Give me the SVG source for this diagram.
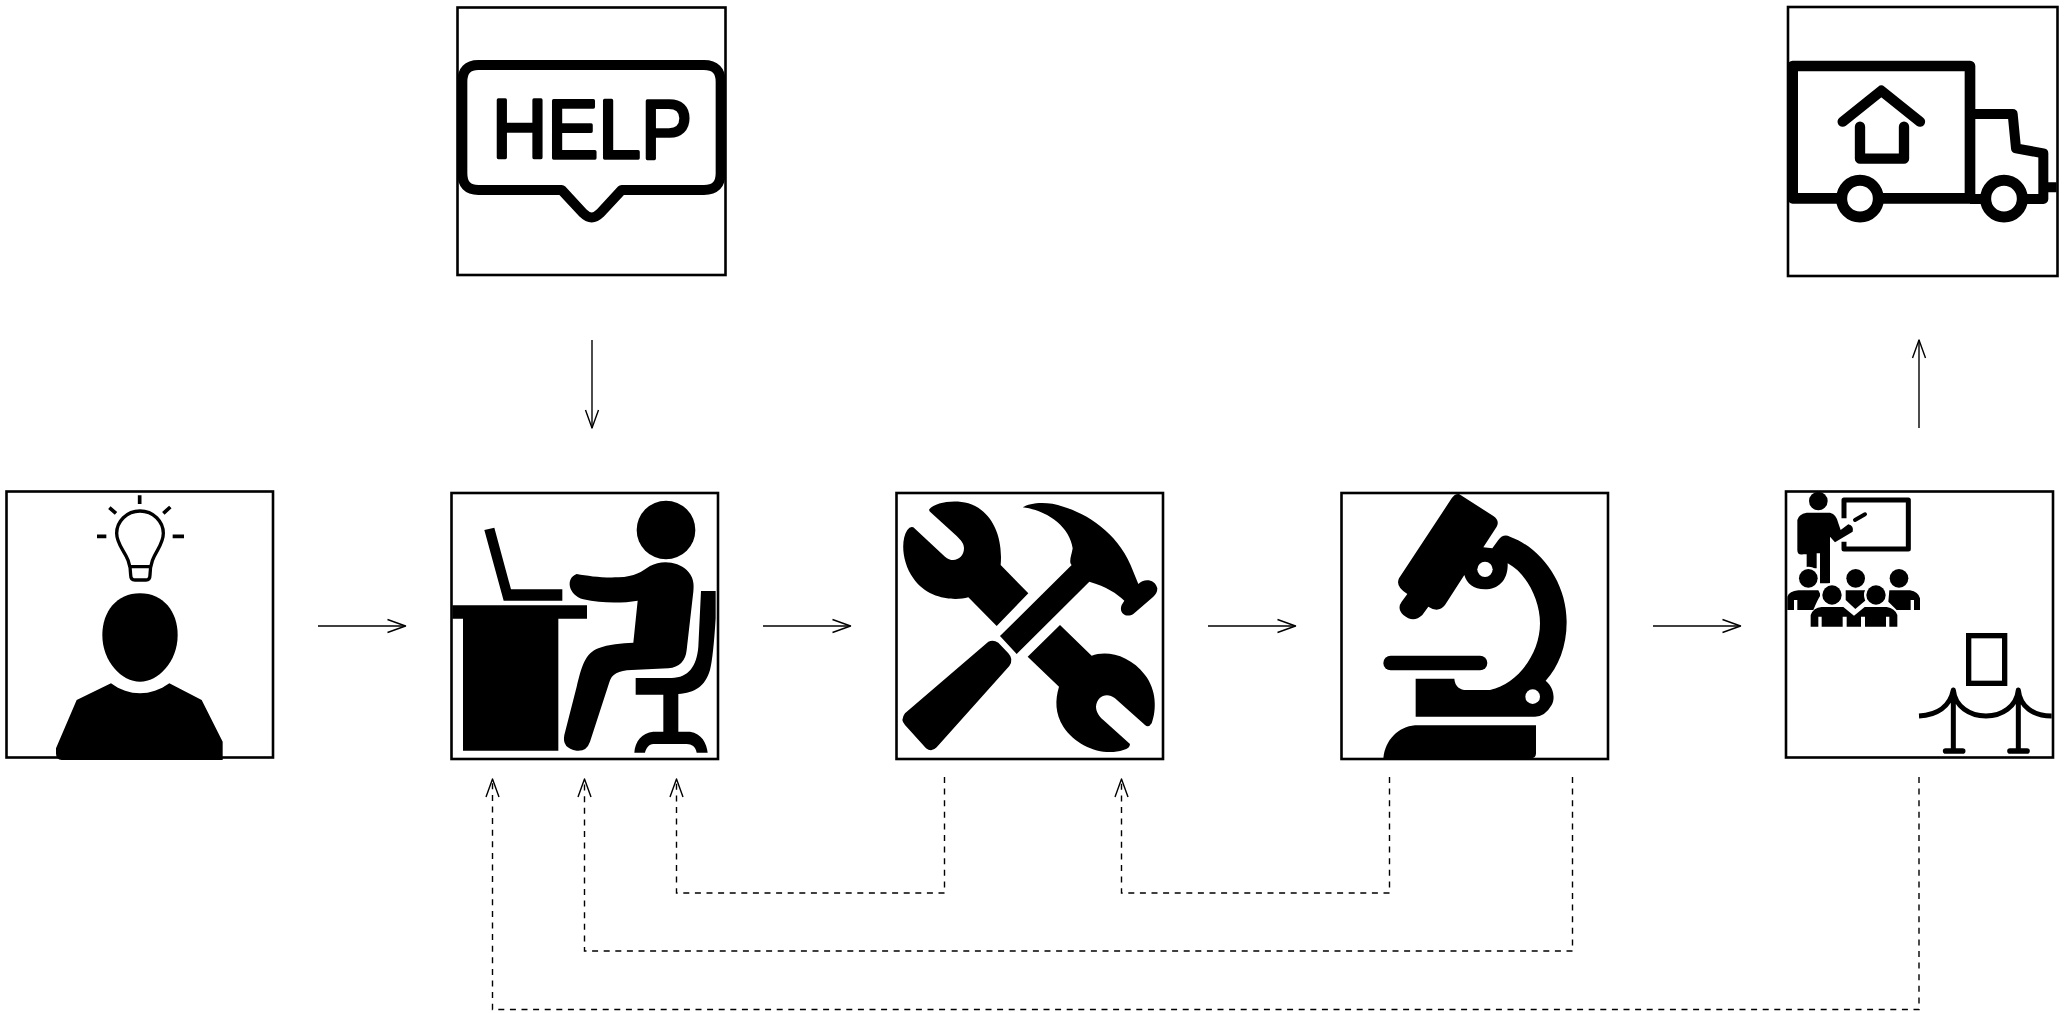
<svg xmlns="http://www.w3.org/2000/svg" width="2065" height="1013" viewBox="0 0 2065 1013">
<style>
.box{fill:#fff;stroke:#000;stroke-width:2.6}
.w{fill:#fff}
.k{fill:#000}
.ln{fill:none;stroke:#000;stroke-linejoin:round}
.r{stroke-linecap:round}
.c{fill:none;stroke:#000;stroke-width:1.4}
.d{stroke-dasharray:6 5.6}
</style>
<defs>
<marker id="a" markerUnits="userSpaceOnUse" markerWidth="24" markerHeight="18" refX="20" refY="9" orient="auto">
<path d="M2,2.5 L20,9 L2,15.5" fill="none" stroke="#000" stroke-width="1.4" stroke-linejoin="round"/>
</marker>
</defs>
<rect width="2065" height="1013" fill="#fff"/>

<g id="idea">
<rect class="box" x="6.5" y="491.5" width="266.5" height="266"/>
<g transform="translate(0,485) scale(.33333)">
<path class="ln" stroke-width="10" d="M420,78 C380,78 350,110 350,145 C350,190 392,205 392,270 Q392,285 405,285 H438 Q450,285 450,270 C450,205 490,190 490,145 C490,110 460,78 420,78Z M392,245 H450"/>
<path class="ln" stroke-width="11" d="M419,31 V57 M328,68 L348,85 M511,66 L490,85 M291,154 H319 M518,154 H552"/>
<path class="k" d="M420,325 C350,325 307,380 307,450 C307,530 365,590 420,590 C475,590 533,530 533,450 C533,380 490,325 420,325Z"/>
<path class="k" d="M333,595 C360,615 390,625 420,625 C450,625 480,615 508,595 L605,645 L668,770 V825 H185 Q168,825 168,805 V790 L230,645Z"/>
</g>
</g>

<g id="work">
<rect class="box" x="451.5" y="493" width="266.5" height="266"/>
<g transform="translate(445,490) scale(.33333)">
<circle class="k" cx="663" cy="120" r="88"/>
<path class="k" d="M118,120 L148,113 L198,298 H352 V332 H176 Z"/>
<path class="k" d="M22,346 H426 V386 H340 V782 H54 V386 H22Z"/>
<path class="k" d="M395,252 C430,258 470,264 520,262 C570,260 590,245 615,228 C650,208 700,215 725,240 C745,260 748,280 745,305 L725,480 Q720,530 670,535 L560,540 C520,542 500,550 492,580 L435,755 Q425,785 395,782 Q350,775 358,735 L395,590 C410,530 420,490 460,475 C490,462 530,460 565,458 L578,332 C530,340 470,340 415,328 C370,315 360,265 395,252 Z"/>
<path class="k" d="M768,303 H812 V385 Q805,500 795,540 C780,590 750,608 700,612 V725 H735 C770,730 785,760 788,788 H755 C752,770 740,762 725,762 H625 C612,762 603,775 600,788 H568 C570,755 590,728 625,725 H655 V614 H572 V564 H680 C730,562 755,530 760,470 Z"/>
</g>
</g>

<g id="tools">
<rect class="box" x="896.5" y="493" width="266.5" height="266"/>
<g transform="translate(890,490) scale(.33333)">
<path class="k" d="M118,58 C135,38 190,28 235,40 C300,60 340,130 332,225 L415,310 L320,408 L235,322 C190,335 110,325 70,265 C35,215 32,150 52,120 Q60,108 70,112 L165,200 C190,222 222,205 222,175 C222,160 212,150 200,138 L125,70 Q115,62 118,58Z"/>
<path class="k" d="M510,405 L605,497 C650,480 720,495 765,555 C800,600 800,660 785,700 Q775,715 765,705 L675,625 C650,605 620,620 618,650 C618,665 628,680 640,690 L720,762 Q720,775 700,780 C640,800 560,770 520,710 C495,670 495,630 507,590 L413,500 Z"/>
<path class="k" d="M398,52 C420,38 470,32 520,50 C600,75 690,135 730,245 L745,282 C760,265 795,265 802,295 Q802,310 790,320 L730,372 C710,385 685,370 695,345 L703,332 C680,310 650,290 598,275 L380,492 L330,438 L545,225 C535,215 545,195 548,175 C540,110 470,60 398,52Z"/>
<path class="k" d="M295,455 Q310,448 325,458 L355,490 Q372,508 358,528 L140,772 Q125,788 108,775 L45,705 Q30,690 45,670 Z"/>
</g>
</g>

<g id="test">
<rect class="box" x="1341.5" y="493" width="266.5" height="266"/>
<g transform="translate(1335,490) scale(.33333)">
<path class="k" d="M372,12 L475,78 Q495,92 485,110 L445,172 L472,175 L490,150 Q505,130 525,140 C620,175 695,280 695,395 C695,470 670,530 632,572 C655,590 662,625 650,645 Q630,680 600,680 H242 V566 H358 C360,590 375,600 395,600 H465 C550,580 615,490 615,400 C615,330 575,250 518,220 C520,270 490,298 450,298 C415,298 395,280 388,255 L330,345 Q310,370 280,350 L262,375 Q235,400 205,375 Q185,355 200,335 L217,312 Q180,290 192,265 L350,25 Q360,10 372,12 Z"/>
<circle class="w" cx="450" cy="238" r="23"/>
<circle class="w" cx="593" cy="620" r="22"/>
<rect class="k" x="145" y="497" width="312" height="44" rx="22"/>
<path class="k" d="M145,805 C150,750 190,710 240,706 H603 V790 Q603,803 590,805 Z"/>
</g>
</g>

<g id="train">
<rect class="box" x="1786" y="491.5" width="267" height="266"/>
<g transform="translate(1780,485) scale(.33333)">
<path class="ln" stroke-width="15" d="M192,100 V45 H385 V192 H192 V170"/>
<path class="ln r" stroke-width="12" d="M225,105 L255,88"/>
<circle class="k" cx="115" cy="48" r="28"/>
<path class="k" d="M52,105 Q55,88 80,83 H150 Q170,88 175,115 L182,135 L205,118 Q222,122 218,140 L165,172 L150,155 V295 H120 V205 H110 V250 H80 V208 H70 Q52,212 52,195 Z"/>
<circle class="w" cx="85" cy="280" r="35"/>
<circle class="k" cx="85" cy="280" r="28"/>
<circle class="k" cx="227" cy="280" r="28"/>
<circle class="k" cx="357" cy="280" r="28"/>
<path class="k" d="M22,375 V335 Q28,318 55,316 H115 L122,330 Q112,345 100,375 H52 V345 H42 V375Z"/>
<path class="k" d="M197,316 H255 L258,345 L226,372 L197,345Z"/>
<path class="k" d="M328,316 H390 Q415,320 420,340 V375 H402 V345 H392 V375 H350 L325,350Z"/>
<circle class="w" cx="156" cy="330" r="36"/>
<circle class="w" cx="288" cy="330" r="36"/>
<circle class="k" cx="156" cy="330" r="29"/>
<circle class="k" cx="288" cy="330" r="29"/>
<path class="k" d="M92,425 V390 Q100,368 125,366 H190 L222,392 L254,366 H320 Q345,370 352,390 V425 H328 V395 H318 V425 H255 V395 H243 V425 H200 V395 H188 V425 H125 V395 H115 V425Z"/>
</g>
<g transform="translate(1770,480) scale(.33333)">
<rect x="596" y="467" width="108" height="143" fill="none" stroke="#000" stroke-width="16"/>
<path class="ln" stroke-width="15" d="M447,708 C500,705 540,680 550,630 C555,680 600,708 648,708 C695,708 740,680 745,630 C750,680 790,708 845,708 M550,630 V813 M745,630 V813"/>
<path class="ln r" stroke-width="17" d="M527,813 H578 M720,813 H771"/>
</g>
</g>

<g id="help">
<rect class="box" x="457.5" y="7.5" width="268" height="267.5"/>
<g transform="translate(450,0) scale(.33333)">
<path class="ln" stroke-width="30" d="M85,195 H762 Q812,195 812,245 V520 Q812,570 762,570 H515 L450,640 Q425,665 400,640 L335,570 H85 Q37,570 37,520 V245 Q37,195 85,195 Z"/>
</g>
<text x="492" y="158" font-family="'Liberation Sans',Arial,sans-serif" font-size="84" textLength="200" lengthAdjust="spacingAndGlyphs" stroke="#000" stroke-width="3.4" stroke-linejoin="round">HELP</text>
</g>

<g id="deliver">
<rect class="box" x="1788" y="7" width="269.5" height="269"/>
<g transform="translate(1780,0) scale(.33333)">
<path class="ln" stroke-width="32" d="M38,595 V198 H570 V595 Z"/>
<path class="ln" stroke-width="30" d="M585,342 H698 L708,445 L790,460 V597 H570 M800,562 H830"/>
<circle cx="240" cy="596" r="55" fill="#fff" stroke="#000" stroke-width="33"/>
<circle cx="672" cy="596" r="55" fill="#fff" stroke="#000" stroke-width="33"/>
<path class="ln r" stroke-width="31" d="M188,365 L304,272 L420,365 M240,380 V476 H372 V380"/>
</g>
</g>

<g id="connectors">
<path class="c" marker-end="url(#a)" d="M318,626 H405.5"/>
<path class="c" marker-end="url(#a)" d="M763,626 H850.5"/>
<path class="c" marker-end="url(#a)" d="M1208,626 H1295.5"/>
<path class="c" marker-end="url(#a)" d="M1653,626 H1740.5"/>
<path class="c" marker-end="url(#a)" d="M592,340 V428"/>
<path class="c" marker-end="url(#a)" d="M1919,428 V340"/>
<path class="c d" marker-end="url(#a)" d="M944.5,777 V893 H676.5 V779"/>
<path class="c d" marker-end="url(#a)" d="M1389.5,777 V893 H1121.5 V779"/>
<path class="c d" marker-end="url(#a)" d="M1572.5,777 V951 H584.5 V779"/>
<path class="c d" marker-end="url(#a)" d="M1919,777 V1009.5 H492.5 V779"/>
</g>
</svg>
